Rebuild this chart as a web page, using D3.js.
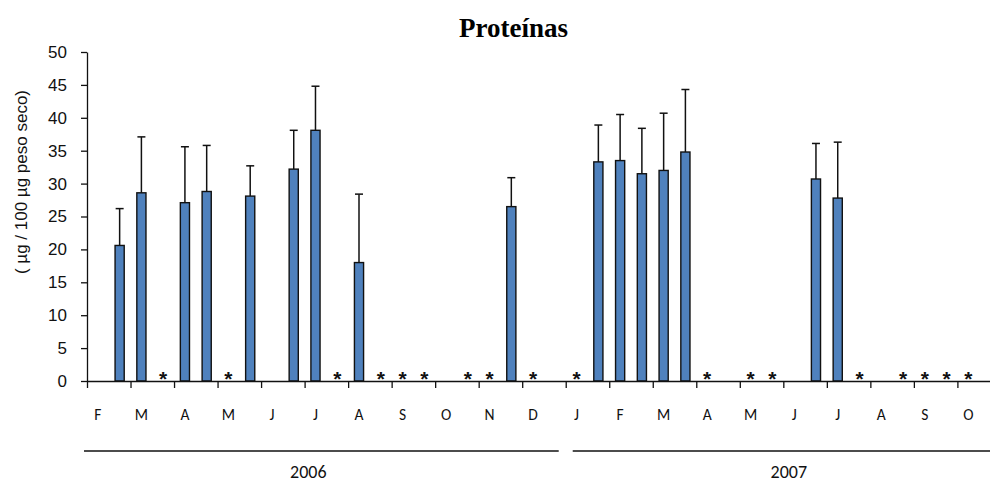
<!DOCTYPE html>
<html>
<head>
<meta charset="utf-8">
<script src="https://cdn.jsdelivr.net/npm/d3@7"></script>
<style>
  body { margin: 0; background: #fff; }
  svg { display: block; }
</style>
</head>
<body>
<div id="chart"></div>
<script>
// month labels, one per month (each month has two sampling slots)
const months = ["F", "M", "A", "M", "J", "J", "A", "S", "O", "N", "D",
                "J", "F", "M", "A", "M", "J", "J", "A", "S", "O"];
const years = ["2006", "2007"];
const yearFirstMonth = [0, 11];   // index in months where each year starts

// protein per sampling slot (null = no bar)
const protein = [null, 20.6, 28.6, null, 27.1, 28.8, null, 28.1, null, 32.2,
                 38.1, null, 18.0, null, null, null, null, null, null, 26.5,
                 null, null, null, 33.3, 33.5, 31.5, 32.0, 34.8, null, null,
                 null, null, null, 30.7, 27.8, null, null, null, null, null,
                 null, null];
const sd = [null, 5.6, 8.5, null, 8.5, 7.0, null, 4.6, null, 5.9,
            6.7, null, 10.4, null, null, null, null, null, null, 4.4,
            null, null, null, 5.6, 7.0, 6.9, 8.7, 9.5, null, null,
            null, null, null, 5.4, 8.5, null, null, null, null, null,
            null, null];
// slots marked with an asterisk
const starSlots = [3, 6, 11, 13, 14, 15, 17, 18, 20, 22, 28, 30, 31, 35, 37, 38, 39, 40];
const yTicks = [0, 5, 10, 15, 20, 25, 30, 35, 40, 45, 50];

const W = 990, H = 483;
const plotLeft = 87, plotTop = 52, plotBase = 381;
const step = 21.76;
const nSlots = months.length * 2;

const svg = d3.select("#chart").append("svg")
    .attr("width", W).attr("height", H);

const slots = d3.range(nSlots);
const x = d3.scaleBand().domain(slots)
    .range([plotLeft, plotLeft + nSlots * step])
    .paddingInner(0.58).paddingOuter(0.29);
const xLin = d3.scaleLinear().domain([0, nSlots]).range([plotLeft, plotLeft + nSlots * step]);
const y = d3.scaleLinear().domain([0, 50]).range([plotBase, plotTop]);

// title
svg.append("text")
    .attr("x", 513.5).attr("y", 37)
    .attr("text-anchor", "middle")
    .style("font-family", "'Liberation Serif', 'Times New Roman', serif")
    .style("font-weight", "bold")
    .style("font-size", "27px")
    .text("Proteínas");

// y axis
const yAxis = svg.append("g")
    .attr("transform", "translate(" + plotLeft + ",0)")
    .call(d3.axisLeft(y).tickValues(yTicks).tickSize(6).tickSizeOuter(0).tickPadding(14));
yAxis.selectAll("text")
    .style("font-family", "'Liberation Sans', Arial, sans-serif")
    .style("font-size", "17px")
    .attr("fill", "#111");
yAxis.selectAll("path, line").attr("stroke", "#111").attr("stroke-width", 1.3);

svg.append("text")
    .attr("transform", "translate(27,182) rotate(-90)")
    .attr("text-anchor", "middle")
    .style("font-family", "'Liberation Sans', Arial, sans-serif")
    .style("font-size", "17px")
    .attr("fill", "#111")
    .text("( µg / 100 µg peso seco)");

// bars
const barData = slots.filter(i => protein[i] != null);
svg.selectAll("rect.bar")
    .data(barData)
    .enter()
    .append("rect")
    .attr("class", "bar")
    .attr("x", i => x(i))
    .attr("y", i => y(protein[i]))
    .attr("width", x.bandwidth())
    .attr("height", i => y(0) - y(protein[i]))
    .attr("fill", "#4F81BD")
    .attr("stroke", "#111")
    .attr("stroke-width", 1.4);

// error bars (upper only)
const err = svg.append("g").attr("stroke", "#111").attr("stroke-width", 1.5);
err.selectAll("line.v")
    .data(barData)
    .enter()
    .append("line")
    .attr("x1", i => x(i) + x.bandwidth() / 2)
    .attr("x2", i => x(i) + x.bandwidth() / 2)
    .attr("y1", i => y(protein[i]))
    .attr("y2", i => y(protein[i] + sd[i]));
err.selectAll("line.cap")
    .data(barData)
    .enter()
    .append("line")
    .attr("x1", i => x(i) + x.bandwidth() / 2 - 4)
    .attr("x2", i => x(i) + x.bandwidth() / 2 + 4)
    .attr("y1", i => y(protein[i] + sd[i]))
    .attr("y2", i => y(protein[i] + sd[i]));

// x axis with ticks every month
const xAxis = svg.append("g")
    .attr("transform", "translate(0," + plotBase + ")")
    .call(d3.axisBottom(xLin).tickValues(d3.range(0, nSlots + 1, 2)).tickSize(7).tickSizeOuter(0).tickFormat(""));
xAxis.selectAll("path, line").attr("stroke", "#111").attr("stroke-width", 1.3);

// asterisks
svg.selectAll("text.star")
    .data(starSlots)
    .enter()
    .append("text")
    .attr("class", "star")
    .attr("x", i => x(i) + x.bandwidth() / 2)
    .attr("y", plotBase + 5)
    .attr("text-anchor", "middle")
    .style("font-family", "'Liberation Sans', Arial, sans-serif")
    .style("font-weight", "bold")
    .style("font-size", "21px")
    .attr("fill", "#111")
    .text("*");

// month labels
svg.selectAll("text.month")
    .data(months)
    .enter()
    .append("text")
    .attr("class", "month")
    .attr("x", (m, k) => x(2 * k) + x.bandwidth() / 2)
    .attr("y", 420)
    .attr("text-anchor", "middle")
    .style("font-family", "Carlito, 'Open Sans', sans-serif")
    .style("font-size", "15.5px")
    .attr("fill", "#111")
    .text(m => m);

// year lines and labels
const yearNudge = [-13, 2];
years.forEach((yr, k) => {
    const s = yearFirstMonth[k] * 2;
    const e = (k + 1 < years.length ? yearFirstMonth[k + 1] : months.length) * 2;
    const x0 = xLin(s) + (k === 0 ? -3 : 7);
    const x1 = xLin(e) - (k + 1 < years.length ? 7 : 0);
    svg.append("line")
        .attr("x1", x0).attr("x2", x1)
        .attr("y1", 451).attr("y2", 451)
        .attr("stroke", "#111").attr("stroke-width", 1.5);
    svg.append("text")
        .attr("x", (x0 + x1) / 2 + yearNudge[k])
        .attr("y", 478)
        .attr("text-anchor", "middle")
        .style("font-family", "Carlito, 'Open Sans', sans-serif")
        .style("font-size", "18px")
        .attr("fill", "#111")
        .text(yr);
});
</script>
</body>
</html>
